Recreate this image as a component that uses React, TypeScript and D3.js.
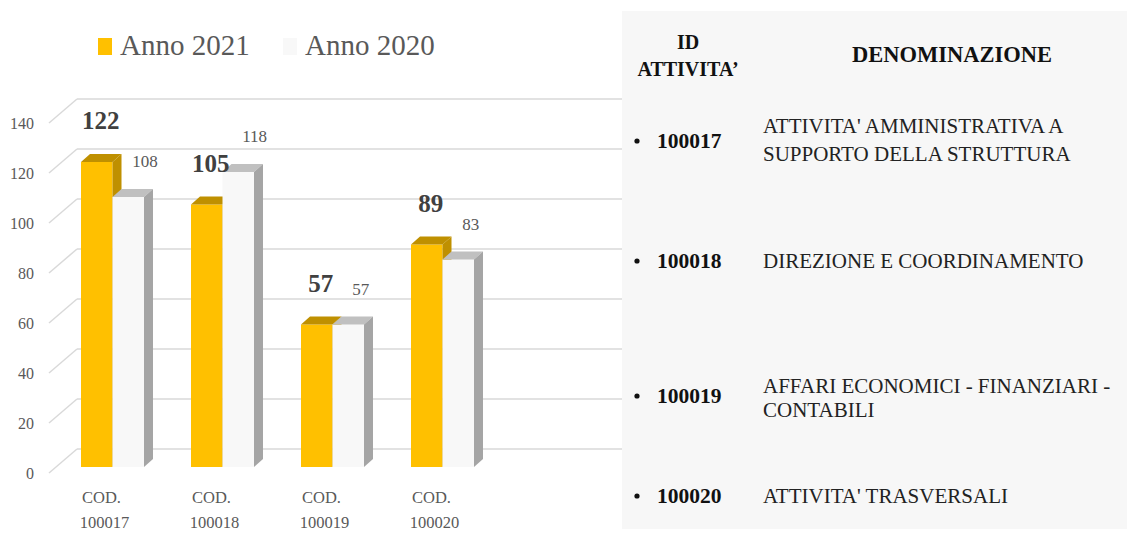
import React from "react";
import * as d3 from "d3";

const categories = ["100017", "100018", "100019", "100020"];
const values2021 = [122, 105, 57, 89];
const values2020 = [108, 118, 57, 83];
const yTicks = [0, 20, 40, 60, 80, 100, 120, 140];
const seriesNames = ["Anno 2021", "Anno 2020"];
const tableHeaderId = ["ID", "ATTIVITA’"];
const tableHeaderName = "DENOMINAZIONE";
const tableIds = ["100017", "100018", "100019", "100020"];
const tableNames = [
  ["ATTIVITA' AMMINISTRATIVA A", "SUPPORTO DELLA STRUTTURA"],
  ["DIREZIONE E COORDINAMENTO"],
  ["AFFARI ECONOMICI - FINANZIARI -", "CONTABILI"],
  ["ATTIVITA' TRASVERSALI"],
];

const W = 1127;
const H = 536;
const SERIF = { fontFamily: "Liberation Serif" };

export default function App() {
  const y = d3.scaleLinear().domain([0, 140]).range([467, 117]);
  const x = d3.scalePoint<string>().domain(categories).range([112.5, 442.5]);
  const bw = 31.5;
  const bdx = 9;
  const bdy = 8;
  const wallBackDy = 18;
  const gridX0 = 49;
  const gridX1 = 77;
  const gridEnd = 622;

  const colors = {
    yFront: "#FFC000",
    yDark: "#BF9000",
    wFront: "#F8F8F8",
    wTop: "#C0C0C0",
    wSide: "#A5A5A5",
  };

  const bar = (x0: number, v: number, front: string, top: string, side: string, key: string) => {
    const yt = y(v);
    const yb = y(0);
    return (
      <g key={key}>
        <rect x={x0} y={yt} width={bw} height={yb - yt} fill={front} />
        <polygon
          points={`${x0},${yt} ${x0 + bdx},${yt - bdy} ${x0 + bw + bdx},${yt - bdy} ${x0 + bw},${yt}`}
          fill={top}
        />
        <polygon
          points={`${x0 + bw},${yt} ${x0 + bw + bdx},${yt - bdy} ${x0 + bw + bdx},${yb - bdy} ${x0 + bw},${yb}`}
          fill={side}
        />
      </g>
    );
  };

  const idRowY = [148, 268, 403, 503];
  const nameRowY = [[133, 161], [268], [393, 417], [503]];

  return (
    <svg width={W} height={H} style={{ position: "absolute", left: 0, top: 0 }}>
      <rect x={0} y={0} width={W} height={H} fill="#ffffff" />
      {yTicks.map((t) => {
        const yb = y(t) - wallBackDy;
        const yf = y(t) + 6;
        return (
          <g key={"g" + t}>
            <line x1={gridX0} y1={yf} x2={gridX1} y2={yb} stroke="#D9D9D9" strokeWidth={1.5} />
            <line x1={gridX1} y1={yb} x2={gridEnd} y2={yb} stroke="#D9D9D9" strokeWidth={1.5} />
            <text style={SERIF} x={34} y={yf + 5.5} textAnchor="end" fontSize={16} fill="#595959">
              {t}
            </text>
          </g>
        );
      })}
      {categories.map((c, i) => {
        const cx = x(c)!;
        return (
          <g key={c}>
            {bar(cx - bw, values2021[i], colors.yFront, colors.yDark, colors.yDark, "a")}
            {bar(cx, values2020[i], colors.wFront, colors.wTop, colors.wSide, "b")}
            <text
              style={SERIF}
              x={cx - bw / 2 + 4}
              y={y(values2021[i]) - 33}
              textAnchor="middle"
              fontSize={25}
              fontWeight="bold"
              fill="#404040"
            >
              {values2021[i]}
            </text>
            <text style={SERIF} x={cx + bw / 2 + 4} y={y(values2020[i]) - 30} textAnchor="start" fontSize={17} fill="#595959">
              {values2020[i]}
            </text>
            <text style={SERIF} x={cx - 11} y={503} textAnchor="middle" fontSize={16.5} fill="#595959">
              COD.
            </text>
            <text style={SERIF} x={cx - 8} y={528} textAnchor="middle" fontSize={16.5} fill="#595959">
              {c}
            </text>
          </g>
        );
      })}
      <rect x={98} y={38} width={14} height={17} fill={colors.yFront} />
      <text style={SERIF} x={120} y={55} fontSize={29} fill="#595959">
        {seriesNames[0]}
      </text>
      <rect x={283} y={38} width={14} height={17} fill={colors.wFront} />
      <text style={SERIF} x={305} y={55} fontSize={29} fill="#595959">
        {seriesNames[1]}
      </text>

      <rect x={622} y={11} width={W - 622} height={518} fill="#F7F7F7" />
      <text style={SERIF} x={688} y={49} textAnchor="middle" fontSize={20} fontWeight="bold" fill="#111">
        {tableHeaderId[0]}
      </text>
      <text style={SERIF} x={688} y={76} textAnchor="middle" fontSize={20} fontWeight="bold" fill="#111">
        {tableHeaderId[1]}
      </text>
      <text style={SERIF} x={952} y={62} textAnchor="middle" fontSize={22.5} fontWeight="bold" fill="#111">
        {tableHeaderName}
      </text>
      {tableIds.map((id, i) => (
        <g key={id}>
          <circle cx={637} cy={idRowY[i] - 7} r={2.6} fill="#111" />
          <text style={SERIF} x={657} y={idRowY[i]} fontSize={21.5} fontWeight="bold" fill="#111">
            {id}
          </text>
          {tableNames[i].map((ln, j) => (
            <text style={SERIF} key={j} x={763} y={nameRowY[i][j]} fontSize={21} fill="#222">
              {ln}
            </text>
          ))}
        </g>
      ))}
    </svg>
  );
}
